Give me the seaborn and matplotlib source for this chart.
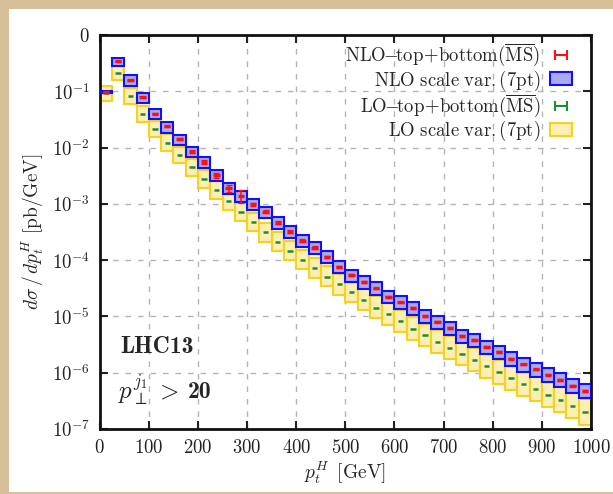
import numpy as np
import matplotlib
matplotlib.use("Agg")
import matplotlib.pyplot as plt
import seaborn as sns
from matplotlib.patches import Patch, Rectangle
from matplotlib.lines import Line2D
from matplotlib.offsetbox import TextArea, HPacker, AnnotationBbox

# ---------------- data ----------------
bin_edges_left = [0, 25, 50, 75, 100, 125, 150, 175, 200, 225, 250, 275, 300, 325, 350, 375,
                  400, 425, 450, 475, 500, 525, 550, 575, 600, 625, 650, 675, 700, 725, 750,
                  775, 800, 825, 850, 875, 900, 925, 950, 975]
bin_width = 25

nlo = [0.096, 0.345, 0.157, 0.078, 0.0403, 0.0237, 0.0140, 0.00846, 0.00547, 0.00326,
       0.00189, 0.00138, 0.00098, 0.00072, 0.000464, 0.000321, 0.000222, 0.000167, 0.000116, 7.7e-5,
       5.4e-5, 4.1e-5, 3.16e-5, 2.25e-5, 1.78e-5, 1.40e-5, 1.02e-5, 8.1e-6, 6.25e-6, 4.5e-6,
       3.78e-6, 2.87e-6, 2.34e-6, 1.78e-6, 1.41e-6, 1.15e-6, 9.2e-7, 7.45e-7, 5.9e-7, 4.75e-7]
nlo_stat = [0.02, 0.02, 0.02, 0.03, 0.03, 0.03, 0.04, 0.05, 0.08, 0.10,
            0.13, 0.26, 0.06, 0.06, 0.05, 0.05, 0.05, 0.05, 0.04, 0.04,
            0.04, 0.04, 0.03, 0.03, 0.03, 0.03, 0.03, 0.03, 0.03, 0.03,
            0.03, 0.03, 0.03, 0.03, 0.03, 0.03, 0.03, 0.03, 0.03, 0.03]
nlo_up = [1.04, 1.11, 1.22, 1.18, 1.21, 1.18, 1.19, 1.22, 1.22, 1.22,
          1.23, 1.23, 1.23, 1.24, 1.24, 1.24, 1.25, 1.25, 1.25, 1.26,
          1.26, 1.26, 1.27, 1.27, 1.27, 1.28, 1.28, 1.28, 1.29, 1.29,
          1.29, 1.30, 1.30, 1.30, 1.31, 1.31, 1.32, 1.32, 1.32, 1.32]
nlo_dn = [0.96, 0.83, 0.80, 0.79, 0.79, 0.78, 0.78, 0.80, 0.79, 0.79,
          0.79, 0.78, 0.78, 0.78, 0.78, 0.77, 0.77, 0.77, 0.77, 0.77,
          0.76, 0.76, 0.76, 0.76, 0.76, 0.75, 0.75, 0.75, 0.75, 0.75,
          0.75, 0.75, 0.74, 0.74, 0.74, 0.74, 0.74, 0.74, 0.74, 0.74]

lo = [0.095, 0.215, 0.081, 0.0395, 0.0212, 0.0122, 0.0074, 0.00445, 0.00277, 0.00174,
      0.00111, 0.00072, 0.00047, 0.00031, 0.000213, 0.000148, 0.000102, 7.2e-5, 5.1e-5, 3.7e-5,
      2.7e-5, 1.96e-5, 1.44e-5, 1.09e-5, 8.2e-6, 6.0e-6, 4.6e-6, 3.5e-6, 2.75e-6, 2.16e-6,
      1.69e-6, 1.32e-6, 1.03e-6, 8.0e-7, 6.4e-7, 5.2e-7, 4.1e-7, 3.3e-7, 2.57e-7, 2.0e-7]
lo_up = [1.32, 1.35, 1.40, 1.39, 1.41, 1.45, 1.40, 1.42, 1.43, 1.44,
         1.45, 1.46, 1.47, 1.48, 1.49, 1.50, 1.51, 1.52, 1.53, 1.54,
         1.55, 1.56, 1.57, 1.58, 1.59, 1.60, 1.61, 1.62, 1.63, 1.64,
         1.65, 1.66, 1.66, 1.67, 1.67, 1.68, 1.68, 1.69, 1.70, 1.72]
lo_dn = [0.70, 0.74, 0.73, 0.73, 0.74, 0.70, 0.71, 0.71, 0.70, 0.70,
         0.70, 0.69, 0.69, 0.68, 0.68, 0.68, 0.67, 0.67, 0.67, 0.66,
         0.66, 0.66, 0.65, 0.65, 0.65, 0.64, 0.64, 0.64, 0.63, 0.63,
         0.63, 0.62, 0.62, 0.62, 0.61, 0.61, 0.60, 0.60, 0.60, 0.60]

ytick_vals = [1e-7, 1e-6, 1e-5, 1e-4, 1e-3, 1e-2, 1e-1, 1]
ytick_labels = [r"$10^{-7}$", r"$10^{-6}$", r"$10^{-5}$", r"$10^{-4}$",
                r"$10^{-3}$", r"$10^{-2}$", r"$10^{-1}$", r"$0$"]
xtick_vals = [0, 100, 200, 300, 400, 500, 600, 700, 800, 900, 1000]

# ---------------- style ----------------
sns.set_theme(style="ticks")
plt.rcParams["font.family"] = ["DejaVu Serif"]
plt.rcParams["mathtext.fontset"] = "cm"
plt.rcParams["axes.unicode_minus"] = True

C_RED = "#ff1010"
C_BLUE_E = "#1010ff"
C_BLUE_F = "#aaaaf2"
C_YEL_E = "#f6d21e"
C_YEL_F = "#fbefb3"
C_GREEN = "#1e8c32"

fig = plt.figure(figsize=(6.13, 4.94), dpi=100, facecolor="#d6bf99")
fig.patches.append(Rectangle((9 / 613, 2 / 494), 1, 1 - 11 / 494, transform=fig.transFigure,
                             facecolor="white", edgecolor="none", zorder=-10))
ax = fig.add_axes([99.7 / 613, 1 - 429 / 494, (591 - 99.7) / 613, (429 - 35) / 494])
ax.set_facecolor("white")

left = np.array(bin_edges_left, dtype=float)
centers = left + bin_width / 2
nlo_a = np.array(nlo)
lo_a = np.array(lo)

lo_lo = lo_a * np.array(lo_dn)
lo_hi = lo_a * np.array(lo_up)
nlo_lo = nlo_a * np.array(nlo_dn)
nlo_hi = nlo_a * np.array(nlo_up)

ax.bar(left, lo_hi - lo_lo, bottom=lo_lo, width=bin_width, align="edge",
       facecolor=C_YEL_F, edgecolor=C_YEL_E, linewidth=1.5, zorder=2)
ax.bar(left, nlo_hi - nlo_lo, bottom=nlo_lo, width=bin_width, align="edge",
       facecolor=C_BLUE_F, edgecolor=C_BLUE_E, linewidth=1.5, zorder=3)

ax.errorbar(centers, lo_a, xerr=5.5, fmt="none", ecolor=C_GREEN, elinewidth=1.8, zorder=4)
stat = np.array(nlo_stat)
ax.errorbar(centers, nlo_a, xerr=6.5, fmt="none", ecolor=C_RED, elinewidth=2.4, zorder=5)
ax.errorbar(centers, nlo_a, yerr=[nlo_a * stat, nlo_a * stat], fmt="none",
            ecolor=C_RED, elinewidth=1.1, capsize=2.0, capthick=1.0, zorder=5)

ax.set_yscale("log")
ax.set_xlim(0, 1000)
ax.set_ylim(1e-7, 1)
ax.set_yticks(ytick_vals)
ax.set_yticklabels(ytick_labels)
ax.set_xticks(xtick_vals)
ax.set_xticklabels([r"$%d$" % v for v in xtick_vals])
ax.minorticks_off()
ax.tick_params(axis="both", which="major", direction="in", length=6, width=1.5,
               top=True, right=True, labelsize=13.5, pad=7, colors="#222222")
ax.grid(True, which="major", linestyle=(0, (4, 5)), color="#b4b4b4", linewidth=1.0)
for s in ax.spines.values():
    s.set_linewidth(2)
    s.set_color("#111111")

ax.set_xlabel(r"$p_t^H\ \,[\mathrm{GeV}]$", fontsize=14, labelpad=2)
ax.set_ylabel(r"$d\sigma\,/\,dp_t^H\ [\mathrm{pb/GeV}]$", fontsize=14, labelpad=4)

ax.text(42, 2.9e-6, "LHC13", fontsize=17, fontfamily="cmb10", ha="left", va="center")
pbox = HPacker(children=[TextArea(r"$p_\perp^{j_1}\,>$", textprops=dict(fontsize=18)),
                         TextArea("20", textprops=dict(fontsize=17, fontfamily="cmb10"))],
               align="baseline", pad=0, sep=6)
ax.add_artist(AnnotationBbox(pbox, (38, 5.0e-7), xycoords="data", frameon=False,
                             box_alignment=(0, 0.5), pad=0))

handles = [
    Line2D([0], [0], color=C_RED, lw=1.5, marker="|", markersize=7, markeredgewidth=1.5),
    Patch(facecolor=C_BLUE_F, edgecolor=C_BLUE_E, linewidth=1.5),
    Line2D([0], [0], color=C_GREEN, lw=1.5, marker="|", markersize=7, markeredgewidth=1.5),
    Patch(facecolor=C_YEL_F, edgecolor=C_YEL_E, linewidth=1.5),
]
labels = [r"$\mathrm{NLO\!\!-\!\!top\!+\!bottom}(\overline{\mathrm{MS}})$",
          r"$\mathrm{NLO\ scale\ var.(7pt)}$",
          r"$\mathrm{LO\!\!-\!\!top\!+\!bottom}(\overline{\mathrm{MS}})$",
          r"$\mathrm{LO\ scale\ var.(7pt)}$"]
leg = ax.legend(handles, labels, loc="upper right", bbox_to_anchor=(0.975, 1.0),
                frameon=False, markerfirst=False,
                fontsize=13.5, handlelength=1.2, handletextpad=0.5, labelspacing=0.0,
                borderaxespad=0.1, borderpad=0.25, numpoints=2)

fig.savefig("out.png", dpi=100, facecolor=fig.get_facecolor())
